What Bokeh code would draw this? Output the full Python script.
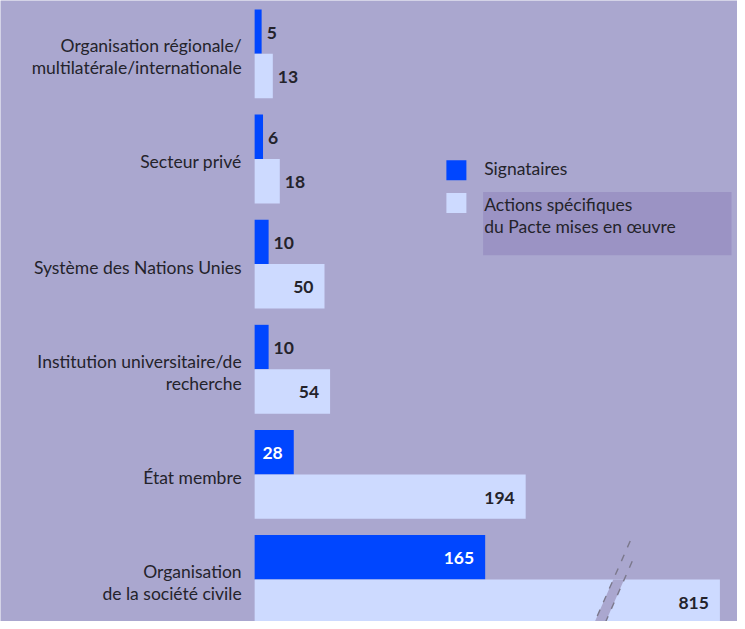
from bokeh.plotting import figure
from bokeh.models import Range1d, ColumnDataSource
from bokeh.core.properties import value
from bokeh.embed import file_html
from bokeh.resources import INLINE

# ---- data ----
categories = [
    "Organisation régionale/\nmultilatérale/internationale",
    "Secteur privé",
    "Système des Nations Unies",
    "Institution universitaire/de\nrecherche",
    "État membre",
    "Organisation\nde la société civile",
]
signataires = [5, 6, 10, 10, 28, 165]
actions = [13, 18, 50, 54, 194, 815]
legend_labels = ["Signataires", "Actions spécifiques\ndu Pacte mises en œuvre"]

# ---- styles ----
BG = "#aaa7cf"
BLUE = "#0046ff"
LIGHT = "#cddaff"
DARK = "#24232b"
HILITE = "#9b93c4"
FONT = "Lato"
FS = "17.5px"
LH = 1.04

BREAK_ABOVE = 300      # bars longer than this are drawn with an axis break
BROKEN_SHOWN = 333     # displayed length of a broken bar
BAR_H = 0.4225
INSIDE_MIN = 25        # labels go inside bars at least this long

def shown(v):
    return BROKEN_SHOWN if v > BREAK_ABOVE else v

n = len(categories)
idx = list(range(n))

p = figure(width=737, height=621, output_backend="svg", toolbar_location=None,
           x_range=Range1d(-181.9, 345.6), y_range=Range1d(5.399, -0.507),
           min_border=0, background_fill_color=BG, border_fill_color=BG,
           outline_line_color=None)
p.axis.visible = False
p.grid.visible = False

# bars
sig_src = ColumnDataSource(dict(y=[i - BAR_H / 2 for i in idx],
                                right=[shown(v) for v in signataires],
                                v=signataires))
act_src = ColumnDataSource(dict(y=[i + BAR_H / 2 for i in idx],
                                right=[shown(v) for v in actions],
                                v=actions))
p.hbar(y="y", left=0, right="right", height=BAR_H, source=sig_src,
       fill_color=BLUE, line_color=None)
p.hbar(y="y", left=0, right="right", height=BAR_H, source=act_src,
       fill_color=LIGHT, line_color=None)

# axis break on broken bars
for i, v in enumerate(actions):
    if v > BREAK_ABOVE:
        xa = 256.7
        slope = -33.0
        gap = 7.8
        yb = i + 0.45
        p.patch([xa, xa + gap, xa + gap + slope * (yb - i), xa + slope * (yb - i)],
                [i, i, yb, yb], fill_color=BG, line_color=None)
        ya0 = i - 0.367
        p.line([xa + slope * (ya0 - i), xa + slope * (yb - i)], [ya0, yb],
               line_color="#7b788c", line_width=1.4, line_dash="7 8")
        yb0 = i - 0.174
        p.line([xa + gap + slope * (yb0 - i), xa + gap + slope * (yb - i)], [yb0, yb],
               line_color="#7b788c", line_width=1.4, line_dash="7 8")

# value labels
def add_labels(vals, ys, inside_color):
    for v, y in zip(vals, ys):
        s = shown(v)
        if s >= INSIDE_MIN:
            p.text(x=[s], y=[y], text=[str(v)], x_offset=-11, y_offset=1,
                   text_align="right", text_baseline="middle",
                   text_font=value(FONT), text_font_style="bold",
                   text_font_size=FS, text_color=inside_color)
        else:
            p.text(x=[s], y=[y], text=[str(v)], x_offset=5, y_offset=1,
                   text_align="left", text_baseline="middle",
                   text_font=value(FONT), text_font_style="bold",
                   text_font_size=FS, text_color=DARK)

add_labels(signataires, sig_src.data["y"], "#ffffff")
add_labels(actions, act_src.data["y"], DARK)

# category labels
p.text(x=[0] * n, y=idx, text=categories, x_offset=-13, y_offset=3,
       text_align="right", text_baseline="middle", text_line_height=LH,
       text_font=value(FONT), text_font_size=FS, text_color=DARK)

# legend (drawn manually)
p.quad(left=[163.5], right=[341.3], top=[1.315], bottom=[1.915],
       fill_color=HILITE, line_color=None)
p.rect(x=[144.4, 144.4], y=[1.108, 1.418], width=20, height=20,
       width_units="screen", height_units="screen",
       fill_color=[BLUE, LIGHT], line_color=None)
p.text(x=[164.3], y=[1.089], text=[legend_labels[0]], text_align="left",
       text_baseline="middle", text_font=value(FONT), text_font_size=FS,
       text_color=DARK)
p.text(x=[164.3], y=[1.54], text=[legend_labels[1]], text_align="left",
       text_baseline="middle", text_line_height=LH, text_font=value(FONT),
       text_font_size=FS, text_color=DARK)

open("out.html", "w").write(file_html(p, INLINE))
